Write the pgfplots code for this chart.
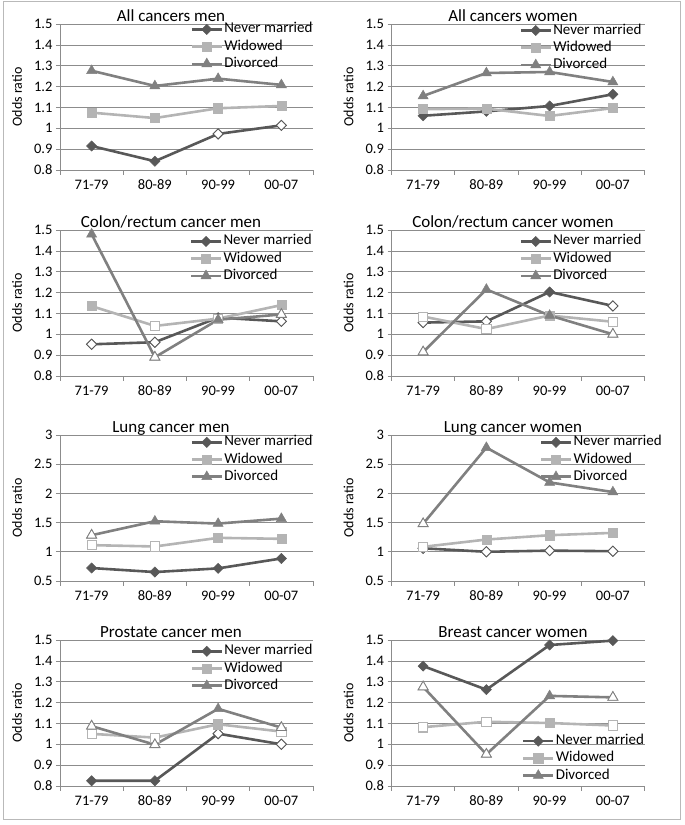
\documentclass[border=0pt]{standalone}
\usepackage{pgfplots}
\pgfplotsset{compat=1.18}
\usepackage{fontspec}
\setmainfont{Carlito}
\definecolor{cNM}{HTML}{585858}
\definecolor{cW}{HTML}{B4B4B4}
\definecolor{cD}{HTML}{808080}
\definecolor{cGrid}{HTML}{8C8C8C}
\pgfplotsset{
 panel/.style 2 args={
  scale only axis, width=253pt, height=146pt,
  xmin=-0.5, xmax=3.5,
  xtick={0,1,2,3}, xticklabels={71-79,80-89,90-99,00-07},
  minor xtick={-0.5,0.5,1.5,2.5,3.5},
  major x tick style={draw=none},
  minor x tick style={draw=cGrid, line width=0.6pt},
  minor tick length=5pt,
  axis lines*=left,
  axis line style={cGrid, line width=0.6pt},
  y tick style={draw=cGrid, line width=0.6pt},
  tick align=outside, major tick length=4pt,
  ymajorgrids, grid style={cGrid, line width=0.6pt},
  ticklabel style={font=\fontsize{14.5}{16}\selectfont},
  xticklabel style={yshift=-2.5pt},
  /pgf/number format/assume math mode=true,
  ylabel={Odds ratio},
  every axis y label/.style={at={(axis description cs:-0.17,0.5)}, rotate=90, anchor=center, font=\fontsize{14}{16}\selectfont},
  title style={at={(axis description cs:#1,1)}, anchor=base, yshift=-3.5pt, font=\fontsize{17}{20}\selectfont},
  clip=false,
  legend image code/.code={\draw[mark repeat=2,mark phase=2] plot coordinates {(0pt,0pt) (15pt,0pt) (30pt,0pt)};},
  legend cell align=left,
  legend style={draw=none, fill=none, inner sep=0pt, row sep=0.8pt, font=\fontsize{15}{17}\selectfont, nodes={inner sep=1.2pt, text height=10.5pt, text depth=3.5pt}, anchor=north west, at={(axis description cs:#2)}},
 },
 ybasic/.style={ymin=0.8, ymax=1.5, ytick={0.8,0.9,1,1.1,1.2,1.3,1.4,1.5}},
 ylung/.style={ymin=0.5, ymax=3, ytick={0.5,1,1.5,2,2.5,3}},
 nm/.style={color=cNM, line width=2.6pt, mark=square*, mark size=3.6pt, mark options={rotate=45, solid, line width=0.5pt, fill=cNM}},
 wi/.style={color=cW, line width=2.6pt, mark=square*, mark size=4.6pt, mark options={solid, line width=0.5pt, fill=cW}},
 dv/.style={color=cD, line width=2.6pt, mark=triangle*, mark size=5.8pt, mark options={solid, line width=0.5pt, fill=cD}},
 nmh/.style={only marks, forget plot, mark=square*, mark size=3.6pt, mark options={rotate=45, draw=cNM, fill=white, line width=0.9pt}},
 wih/.style={only marks, forget plot, mark=square*, mark size=4.6pt, mark options={draw=cW, fill=white, line width=0.9pt}},
 dvh/.style={only marks, forget plot, mark=triangle*, mark size=5.8pt, mark options={draw=cD, fill=white, line width=0.9pt}},
}
\begin{document}
\begin{tikzpicture}
\useasboundingbox (0pt,0pt) rectangle (685pt,825pt);
\draw[gray!55, line width=0.8pt] (3pt,6pt) rectangle (680pt,824pt);

% Panel 1
\begin{axis}[panel={0.4387}{0.515,1.020}, ybasic, at={(60pt,655pt)}, anchor=south west, title={All cancers men}]
\addplot[nm] coordinates {(0,0.915)(1,0.842)(2,0.973)(3,1.014)};
\addplot[nmh] coordinates {(2,0.973)(3,1.014)};
\addplot[wi] coordinates {(0,1.075)(1,1.049)(2,1.096)(3,1.107)};
\addplot[dv] coordinates {(0,1.276)(1,1.203)(2,1.238)(3,1.208)};
\legend{Never married, Widowed, Divorced}
\end{axis}

% Panel 2
\begin{axis}[panel={0.480}{0.505,1.013}, ybasic, at={(391.5pt,655pt)}, anchor=south west, title={All cancers women}]
\addplot[nm] coordinates {(0,1.060)(1,1.081)(2,1.107)(3,1.163)};
\addplot[wi] coordinates {(0,1.092)(1,1.094)(2,1.059)(3,1.097)};
\addplot[dv] coordinates {(0,1.155)(1,1.265)(2,1.270)(3,1.222)};
\legend{Never married, Widowed, Divorced}
\end{axis}

% Panel 3
\begin{axis}[panel={0.4387}{0.512,0.979}, ybasic, at={(60pt,449pt)}, anchor=south west, title={Colon/rectum cancer men}]
\addplot[nm] coordinates {(0,0.952)(1,0.962)(2,1.080)(3,1.062)};
\addplot[nmh] coordinates {(0,0.952)(1,0.962)(3,1.062)};
\addplot[wi] coordinates {(0,1.135)(1,1.040)(2,1.075)(3,1.140)};
\addplot[wih] coordinates {(1,1.040)(2,1.075)};
\addplot[dv] coordinates {(0,1.480)(1,0.890)(2,1.070)(3,1.095)};
\addplot[dvh] coordinates {(1,0.890)(3,1.095)};
\legend{Never married, Widowed, Divorced}
\end{axis}

% Panel 4
\begin{axis}[panel={0.480}{0.505,0.979}, ybasic, at={(391.5pt,449pt)}, anchor=south west, title={Colon/rectum cancer women}]
\addplot[nm] coordinates {(0,1.056)(1,1.062)(2,1.203)(3,1.136)};
\addplot[nmh] coordinates {(0,1.056)(1,1.062)(3,1.136)};
\addplot[wi] coordinates {(0,1.085)(1,1.025)(2,1.090)(3,1.060)};
\addplot[wih] coordinates {(0,1.085)(1,1.025)(3,1.060)};
\addplot[dv] coordinates {(0,0.915)(1,1.215)(2,1.090)(3,1.000)};
\addplot[dvh] coordinates {(0,0.915)(3,1.000)};
\legend{Never married, Widowed, Divorced}
\end{axis}

% Panel 5
\begin{axis}[panel={0.4387}{0.515,1.007}, ylung, at={(60pt,244pt)}, anchor=south west, title={Lung cancer men}]
\addplot[nm] coordinates {(0,0.722)(1,0.653)(2,0.716)(3,0.886)};
\addplot[wi] coordinates {(0,1.114)(1,1.091)(2,1.239)(3,1.222)};
\addplot[wih] coordinates {(0,1.114)(1,1.091)};
\addplot[dv] coordinates {(0,1.284)(1,1.523)(2,1.483)(3,1.568)};
\addplot[dvh] coordinates {(0,1.284)};
\legend{Never married, Widowed, Divorced}
\end{axis}

% Panel 6
\begin{axis}[panel={0.480}{0.585,1.007}, ylung, at={(391.5pt,244pt)}, anchor=south west, title={Lung cancer women}]
\addplot[nm] coordinates {(0,1.060)(1,1.000)(2,1.020)(3,1.010)};
\addplot[nmh] coordinates {(0,1.060)(1,1.000)(2,1.020)(3,1.010)};
\addplot[wi] coordinates {(0,1.085)(1,1.210)(2,1.284)(3,1.324)};
\addplot[wih] coordinates {(0,1.085)};
\addplot[dv] coordinates {(0,1.480)(1,2.784)(2,2.188)(3,2.023)};
\addplot[dvh] coordinates {(0,1.480)};
\legend{Never married, Widowed, Divorced}
\end{axis}

% Panel 7
\begin{axis}[panel={0.4387}{0.515,0.98}, ybasic, at={(60pt,39pt)}, anchor=south west, title={Prostate cancer men}]
\addplot[nm] coordinates {(0,0.825)(1,0.825)(2,1.051)(3,1.000)};
\addplot[nmh] coordinates {(2,1.051)(3,1.000)};
\addplot[wi] coordinates {(0,1.050)(1,1.032)(2,1.096)(3,1.061)};
\addplot[wih] coordinates {(0,1.050)(1,1.032)(3,1.061)};
\addplot[dv] coordinates {(0,1.087)(1,0.998)(2,1.170)(3,1.080)};
\addplot[dvh] coordinates {(0,1.087)(1,0.998)(3,1.080)};
\legend{Never married, Widowed, Divorced}
\end{axis}

% Panel 8
\begin{axis}[panel={0.480}{0.515,0.365}, ybasic, at={(391.5pt,39pt)}, anchor=south west, title={Breast cancer women}]
\addplot[nm] coordinates {(0,1.375)(1,1.262)(2,1.476)(3,1.497)};
\addplot[wi] coordinates {(0,1.082)(1,1.108)(2,1.102)(3,1.090)};
\addplot[wih] coordinates {(0,1.082)(1,1.108)(3,1.090)};
\addplot[dv] coordinates {(0,1.275)(1,0.952)(2,1.232)(3,1.225)};
\addplot[dvh] coordinates {(0,1.275)(1,0.952)(3,1.225)};
\legend{Never married, Widowed, Divorced}
\end{axis}
\end{tikzpicture}
\end{document}
